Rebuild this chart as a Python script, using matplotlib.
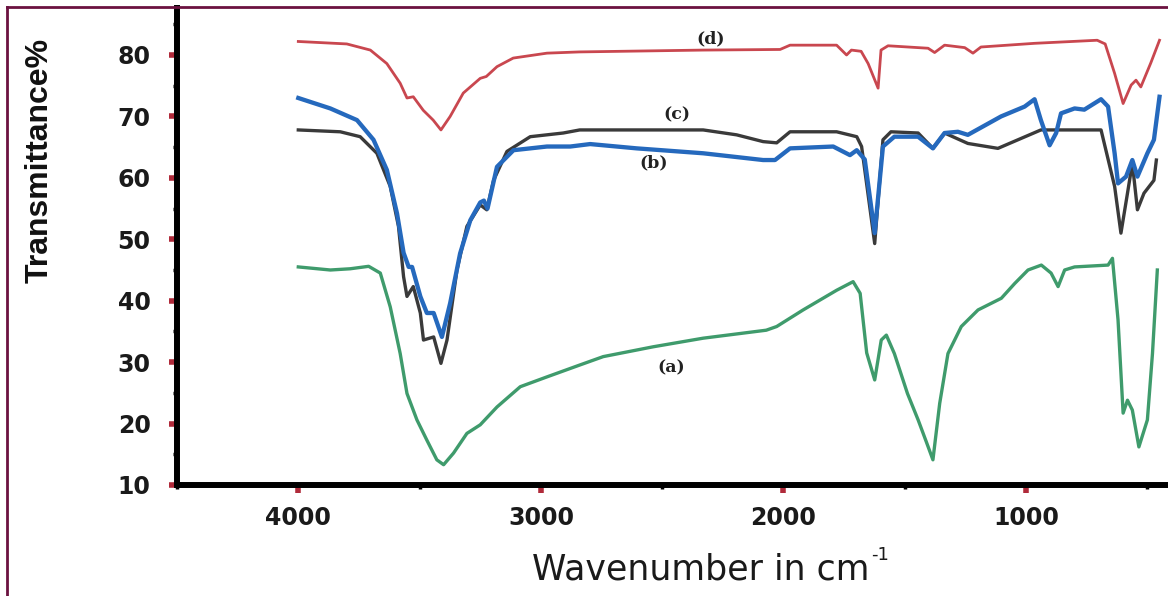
import matplotlib
matplotlib.use("Agg")
import matplotlib.pyplot as plt
from matplotlib.lines import Line2D
from matplotlib.ticker import MultipleLocator

# FTIR spectra, (wavenumber cm-1, transmittance %)
wn_a = [4000, 3868, 3786, 3710, 3662, 3621, 3580, 3552, 3511, 3470, 3429, 3401,
        3360, 3305, 3250, 3181, 3085, 2975, 2842, 2743, 2537, 2331, 2071, 2028,
        1919, 1781, 1713, 1684, 1657, 1624, 1597, 1576, 1543, 1489, 1445, 1411,
        1384, 1356, 1322, 1267, 1198, 1102, 1047, 992, 937, 897, 868, 841, 800,
        662, 644, 621, 600, 582, 562, 535, 500, 479, 459]
tr_a = [45.5, 45.0, 45.2, 45.6, 44.5, 39.0, 31.4, 24.9, 20.6, 17.3, 14.1, 13.3,
        15.2, 18.4, 19.8, 22.7, 26.0, 27.6, 29.5, 30.9, 32.5, 33.9, 35.2, 35.8,
        38.5, 41.7, 43.1, 41.2, 31.5, 27.1, 33.6, 34.4, 31.4, 24.9, 20.6, 17.0,
        14.1, 23.3, 31.4, 35.8, 38.5, 40.4, 42.8, 45.0, 45.8, 44.5, 42.3, 45.0, 45.5,
        45.8, 46.9, 36.9, 21.7, 23.8, 22.2, 16.2, 20.6, 31.4, 45.0]

wn_b = [4000, 3868, 3758, 3690, 3635, 3593, 3566, 3545, 3531, 3497, 3470, 3442,
        3408, 3374, 3333, 3291, 3250, 3235, 3220, 3181, 3113, 2975, 2879, 2797,
        2605, 2331, 2084, 2035, 1973, 1795, 1726, 1698, 1665, 1624, 1590, 1543,
        1445, 1384, 1336, 1281, 1240, 1103, 1006, 965, 939, 903, 876, 856, 800,
        760, 691, 662, 635, 621, 588, 562, 541, 500, 473, 450]
tr_b = [73.0, 71.3, 69.4, 66.2, 61.3, 54.2, 47.8, 45.5, 45.5, 40.7, 38.0, 38.0,
        34.1, 39.6, 47.7, 53.1, 56.0, 56.3, 55.0, 61.8, 64.5, 65.1, 65.1, 65.5,
        64.8, 64.0, 62.9, 62.9, 64.8, 65.1, 63.7, 64.5, 63.0, 51.0, 65.1, 66.7,
        66.7, 64.8, 67.3, 67.5, 67.0, 70.0, 71.6, 72.8, 69.4, 65.3, 67.3, 70.5, 71.3,
        71.1, 72.8, 71.6, 64.0, 59.1, 60.2, 62.9, 60.2, 64.0, 66.2, 73.2]

wn_c = [4000, 3827, 3745, 3676, 3621, 3587, 3566, 3552, 3526, 3497, 3484, 3442,
        3412, 3387, 3346, 3305, 3250, 3223, 3195, 3140, 3044, 2908, 2840, 2331,
        2193, 2084, 2028, 1973, 1781, 1698, 1678, 1624, 1590, 1557, 1445, 1384,
        1336, 1240, 1116, 939, 691, 635, 609, 582, 562, 541, 514, 473, 463]
tr_c = [67.8, 67.5, 66.7, 64.0, 58.6, 52.1, 43.9, 40.7, 42.3, 38.0, 33.6, 34.1,
        29.8, 33.6, 45.0, 52.1, 55.6, 54.8, 59.6, 64.3, 66.7, 67.3, 67.8, 67.8,
        67.0, 65.9, 65.7, 67.5, 67.5, 66.7, 65.1, 49.3, 66.2, 67.5, 67.3, 64.8,
        67.3, 65.6, 64.8, 67.8, 67.8, 58.6, 51.0, 57.5, 62.4, 54.8, 57.5, 59.6, 62.9]

wn_d = [4000, 3800, 3703, 3635, 3580, 3552, 3526, 3485, 3444, 3412, 3374, 3320,
        3250, 3225, 3181, 3114, 2975, 2842, 2331, 2014, 1973, 1781, 1740, 1720,
        1680, 1651, 1610, 1598, 1569, 1404, 1377, 1336, 1253, 1219, 1186, 965,
        707, 674, 635, 600, 567, 547, 527, 486, 450]
tr_d = [82.2, 81.8, 80.8, 78.6, 75.4, 73.0, 73.2, 71.0, 69.4, 67.8, 70.0, 73.8,
        76.2, 76.5, 78.1, 79.5, 80.3, 80.5, 80.8, 80.9, 81.6, 81.6, 80.0, 80.8,
        80.6, 78.6, 74.6, 80.8, 81.5, 81.1, 80.4, 81.6, 81.2, 80.3, 81.3, 81.9,
        82.4, 81.8, 77.0, 72.1, 75.1, 75.9, 74.8, 78.7, 82.4]

labels = ["(a)", "(b)", "(c)", "(d)"]
label_wn = [2461, 2537, 2440, 2302]
label_tr = [29.0, 62.5, 70.2, 82.7]

y_ticks = [10, 20, 30, 40, 50, 60, 70, 80]
x_ticks = [4000, 3000, 2000, 1000]

fig = plt.figure(figsize=(11.68, 5.96), dpi=100)
ax = fig.add_axes([177 / 1168, 111 / 596, 1 - 177 / 1168, 477 / 596])

ax.plot(wn_a, tr_a, color="#3f9b6c", lw=2.4)
ax.plot(wn_c, tr_c, color="#3a3a3a", lw=2.4)
ax.plot(wn_b, tr_b, color="#2569bd", lw=3.1)
ax.plot(wn_d, tr_d, color="#c9474f", lw=2.0)

for txt, x, y in zip(labels, label_wn, label_tr):
    ax.text(x, y, txt, ha="center", va="center", fontsize=12.5,
            fontweight="bold", family="DejaVu Serif", color="#222222")

ax.set_xlim(4500, 415)
ax.set_ylim(10, 87.65)
ax.set_xticks(x_ticks)
ax.set_yticks(y_ticks)
ax.xaxis.set_minor_locator(MultipleLocator(500))
ax.yaxis.set_minor_locator(MultipleLocator(5))

for side in ["top", "right"]:
    ax.spines[side].set_visible(False)
for side in ["left", "bottom"]:
    ax.spines[side].set_linewidth(4.3)
    ax.spines[side].set_color("black")

ax.tick_params(which="major", direction="out", length=6, width=4,
               color="#b02a3a")
ax.tick_params(axis="x", which="major", pad=9)
ax.tick_params(axis="y", which="major", pad=13)
ax.tick_params(which="minor", direction="out", length=3, width=2.5,
               color="black")
for lab in ax.get_xticklabels() + ax.get_yticklabels():
    lab.set_fontweight("bold")
    lab.set_family("DejaVu Sans")
    lab.set_fontsize(17)
    lab.set_color("#1a1a1a")

fig.text(40 / 1168, 1 - 160 / 596, "Transmittance%", rotation=90,
         ha="center", va="center", fontsize=23, fontweight="bold",
         family="Liberation Sans", color="#111111")

# x label with a small hyphen superscript placed right after "cm"
xlab = fig.text(532 / 1168, 1 - 580 / 596, "Wavenumber in cm", ha="left",
                va="baseline", fontsize=25, family="DejaVu Sans",
                color="#1a1a1a")
fig.canvas.draw()
bb = xlab.get_window_extent().transformed(fig.transFigure.inverted())
fig.text(bb.x1 + 2 / 1168, 1 - 560 / 596, "-1", ha="left", va="baseline",
         fontsize=13, family="DejaVu Sans", color="#1a1a1a")

# maroon picture frame (only top and left edges show)
border = "#6b1240"
fig.add_artist(Line2D([7 / 1168, 7 / 1168], [0, 1 - 7 / 596],
                      transform=fig.transFigure, color=border, lw=2))
fig.add_artist(Line2D([7 / 1168, 1], [1 - 7 / 596, 1 - 7 / 596],
                      transform=fig.transFigure, color=border, lw=2))

fig.savefig("out.png", dpi=100)
